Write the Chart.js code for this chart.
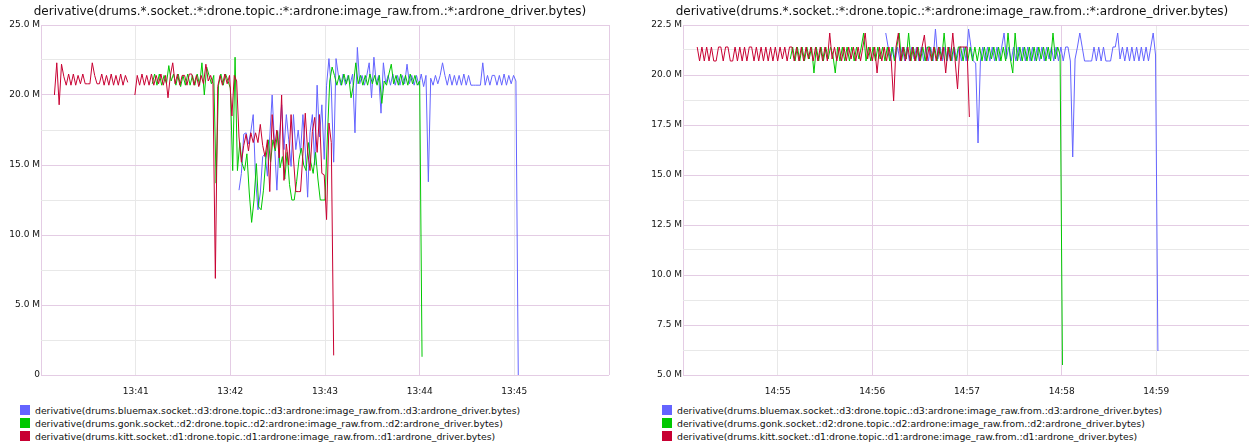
<!DOCTYPE html>
<html>
<head>
<meta charset="utf-8">
<script src="https://cdn.jsdelivr.net/npm/chart.js@4.4.1/dist/chart.umd.min.js"></script>
<style>
  body { margin: 0; background: #fff; width: 1249px; height: 446px; overflow: hidden; position: relative; font-family: 'DejaVu Sans', sans-serif; }
  .box { position: absolute; top: 0; width: 620px; height: 400px; }
  .legend { position: absolute; top: 404px; font-size: 9.3px; color: #111; }
  .legend div { height: 13px; line-height: 13px; white-space: nowrap; }
  .legend span { display: inline-block; width: 10px; height: 10px; margin-right: 5px; vertical-align: -1px; }
</style>
</head>
<body>
<div class="box" style="left:0"><canvas id="left"></canvas></div>
<div class="box" style="left:642px"><canvas id="right"></canvas></div>
<div class="legend" id="legendLeft" style="left:20px"></div>
<div class="legend" id="legendRight" style="left:662px"></div>
<script>
var title = 'derivative(drums.*.socket.:*:drone.topic.:*:ardrone:image_raw.from.:*:ardrone_driver.bytes)';
var seriesNames = [
  'derivative(drums.bluemax.socket.:d3:drone.topic.:d3:ardrone:image_raw.from.:d3:ardrone_driver.bytes)',
  'derivative(drums.gonk.socket.:d2:drone.topic.:d2:ardrone:image_raw.from.:d2:ardrone_driver.bytes)',
  'derivative(drums.kitt.socket.:d1:drone.topic.:d1:ardrone:image_raw.from.:d1:ardrone_driver.bytes)'
];
var seriesColors = ['rgb(100,100,255)', 'rgb(0,200,0)', 'rgb(200,0,50)'];

// seconds between samples; values are in millions (M)
var step = 1.5;

// ---- first graph, 13:40 - 13:46 ----
var leftTimeLabels = ['13:41', '13:42', '13:43', '13:44', '13:45'];
var leftYLabels = ['0', '5.0 M', '10.0 M', '15.0 M', '20.0 M', '25.0 M'];
var leftStarts = [125.5, 70.5, 8.5];   // seconds after 13:40 (blue, green, red)

var leftBlue = [
  13.2, 14.4, 17.2, 17.3, 16.5, 17.4, 18.6, 14.0, 11.8, 13.0,
  15.6, 15.8, 14.2, 17.0, 20.0, 16.5, 13.2, 16.8, 19.3, 16.1,
  18.6, 16.8, 14.9, 18.6, 16.1, 17.5, 15.9, 18.6, 16.0, 12.7,
  17.3, 18.6, 15.0, 20.7, 17.0, 19.3, 15.4, 20.7, 22.6, 20.5,
  15.2, 22.6, 21.4, 20.7, 21.5, 20.7, 21.4, 20.8, 21.5, 17.3,
  23.4, 20.8, 21.4, 20.7, 21.4, 22.3, 19.8, 22.7, 20.8, 21.4,
  18.7, 22.3, 20.8, 21.4, 20.7, 21.5, 20.7, 21.4, 20.7, 21.4,
  20.8, 22.2, 20.8, 21.4, 20.7, 21.4, 20.7, 21.5, 20.6, 21.4,
  13.8, 21.2, 20.7, 21.4, 20.8, 21.4, 22.3, 21.4, 20.7, 21.5,
  20.7, 21.4, 20.7, 21.4, 20.7, 21.5, 20.7, 21.4, 20.7, 20.7,
  20.7, 20.7, 20.7, 22.3, 20.7, 21.4, 20.7, 21.4, 21.4, 20.7,
  21.4, 20.7, 21.5, 20.7, 21.4, 20.8, 21.4, 21.0, 0
];
var leftGreen = [
  20.8, 21.5, 20.7, 21.5, 20.7, 21.4, 20.8, 22.1, 21.0, 21.5,
  20.7, 21.5, 20.6, 21.4, 20.7, 21.5, 20.7, 21.4, 20.7, 21.5,
  20.7, 22.3, 20.0, 22.0, 21.4, 20.8, 21.4, 13.7, 20.7, 21.5,
  20.7, 21.5, 21.0, 20.5, 14.6, 22.7, 14.6, 16.6, 15.1, 14.6,
  15.8, 13.0, 10.9, 12.5, 15.1, 12.0, 11.8, 13.2, 15.4, 16.8,
  15.2, 16.8, 16.0, 17.4, 14.8, 15.6, 14.0, 15.9, 13.6, 12.5,
  12.5, 13.8, 15.4, 16.2, 15.0, 14.6, 16.6, 15.2, 14.4, 15.9,
  14.0, 12.5, 12.5, 12.5, 17.0, 21.0, 22.0, 21.4, 20.7, 21.4,
  20.7, 21.5, 20.8, 21.4, 19.8, 20.7, 22.3, 20.8, 21.4, 20.7,
  21.4, 20.7, 21.5, 20.8, 21.4, 20.7, 21.4, 19.4, 21.0, 20.7,
  21.5, 22.2, 20.8, 21.4, 20.7, 21.5, 20.7, 21.4, 20.7, 21.5,
  20.8, 21.4, 20.7, 21.0, 1.3
];
var leftRed = [
  20.0, 22.3, 19.3, 22.2, 21.3, 20.7, 21.5, 20.7, 21.5, 20.7,
  21.4, 20.8, 21.5, 20.8, 20.8, 20.8, 22.3, 21.4, 20.8, 20.8,
  21.5, 20.7, 21.4, 20.7, 21.5, 20.7, 21.4, 20.7, 21.5, 20.7,
  21.4, 20.9, null, null, 20.0, 21.4, 20.7, 21.5, 20.7, 21.4,
  20.7, 21.5, 20.7, 21.4, 20.8, 21.5, 20.7, 21.4, 19.8, 21.4,
  22.3, 20.8, 21.5, 20.7, 21.4, 21.4, 20.7, 21.5, 21.5, 20.7,
  21.4, 20.6, 21.4, 20.8, 22.2, 21.0, 21.4, 20.8, 6.9, 20.6,
  21.4, 20.7, 21.5, 20.8, 21.4, 18.5, 21.4, 21.0, 17.0, 15.2,
  16.4, 17.2, 16.0, 17.3, 16.6, 17.3, 16.6, 17.9, 16.4, 15.6,
  16.8, 13.1, 18.6, 16.2, 17.5, 15.5, 20.0, 13.9, 16.5, 15.0,
  18.6, 15.5, 13.1, 13.1, 13.1, 15.8, 18.7, 16.0, 14.6, 17.4,
  18.4, 15.9, 18.6, 14.4, 14.3, 11.1, 18.0, 16.6, 1.4
];

// ---- second graph, 14:54 - 15:00 ----
var rightTimeLabels = ['14:55', '14:56', '14:57', '14:58', '14:59'];
var rightYLabels = ['5.0 M', '7.5 M', '10.0 M', '12.5 M', '15.0 M', '17.5 M', '20.0 M', '22.5 M'];
var rightStarts = [128.5, 68, 9];   // seconds after 14:54 (blue, green, red)

var rightBlue = [
  22.1, 21.4, 20.7, 21.4, 20.7, 21.4, 20.7, 21.4, 20.7, 21.4,
  20.7, 21.4, 20.8, 21.4, 20.7, 21.4, 20.7, 21.4, 20.7, 21.4,
  20.7, 22.3, 20.8, 21.4, 20.7, 21.4, 20.7, 21.4, 20.7, 21.4,
  20.7, 21.4, 20.7, 21.4, 20.7, 22.3, 21.4, 20.7, 20.6, 16.6,
  20.7, 21.4, 20.7, 21.4, 20.7, 21.4, 20.7, 21.4, 20.7, 21.4,
  22.1, 20.8, 21.4, 20.7, 21.4, 20.7, 21.4, 20.7, 21.4, 20.7,
  21.4, 20.7, 21.4, 20.7, 21.4, 20.7, 21.4, 20.7, 21.4, 20.8,
  21.4, 20.7, 21.4, 20.7, 21.4, 20.7, 21.4, 21.4, 20.7, 15.9,
  20.8, 21.4, 22.1, 21.4, 20.7, 20.7, 20.7, 20.7, 21.4, 20.7,
  21.4, 20.7, 21.4, 20.7, 20.7, 20.7, 21.4, 21.4, 22.1, 20.8,
  21.4, 20.7, 21.4, 20.7, 21.4, 20.7, 21.4, 20.7, 21.4, 20.7,
  21.4, 20.7, 21.4, 22.1, 21.0, 6.2
];
var rightGreen = [
  20.8, 21.4, 20.7, 21.4, 20.7, 21.4, 20.7, 21.4, 20.8, 21.4,
  20.1, 21.4, 20.7, 21.4, 20.7, 21.4, 20.8, 21.4, 21.0, 20.1,
  21.4, 20.7, 21.4, 20.7, 21.4, 20.7, 21.4, 20.7, 21.4, 20.8,
  21.4, 22.1, 20.7, 21.4, 20.7, 21.4, 20.7, 21.4, 20.8, 21.4,
  20.7, 21.4, 20.7, 21.4, 20.7, 21.4, 22.1, 20.7, 21.4, 20.8,
  22.1, 20.7, 21.4, 20.7, 21.4, 20.7, 21.4, 20.7, 21.4, 21.4,
  20.7, 21.4, 20.7, 21.4, 20.8, 22.1, 20.7, 21.4, 20.7, 21.4,
  20.7, 21.4, 21.4, 20.7, 21.4, 20.7, 21.4, 20.7, 21.4, 20.7,
  21.4, 20.7, 21.4, 20.7, 21.4, 20.8, 21.4, 20.7, 21.4, 20.7,
  21.4, 20.7, 22.1, 20.8, 20.1, 22.1, 20.7, 21.4, 20.7, 21.4,
  20.7, 21.4, 20.7, 21.4, 20.7, 21.4, 20.8, 21.4, 20.7, 21.4,
  20.7, 22.1, 20.8, 21.4, 21.0, 5.5
];
var rightRed = [
  21.4, 20.7, 21.4, 20.7, 21.4, 20.7, 21.4, 20.7, 20.7, 21.4,
  21.4, 20.7, 21.4, 21.4, 20.7, 20.7, 21.4, 20.7, 21.4, 20.7,
  21.4, 20.7, 21.4, 21.4, 20.7, 21.4, 20.7, 21.4, 20.7, 21.4,
  20.7, 21.4, 20.7, 21.4, 20.7, 21.4, 20.8, 21.4, 20.7, 21.4,
  21.4, 20.7, 21.4, 20.7, 21.4, 20.7, 21.4, 20.8, 21.4, 20.7,
  21.4, 20.7, 21.4, 20.7, 21.4, 20.7, 22.1, 20.8, 21.4, 20.7,
  21.4, 20.7, 21.4, 20.7, 21.4, 20.8, 21.4, 20.7, 21.4, 20.7,
  21.4, 22.1, 20.8, 21.4, 20.7, 21.4, 20.1, 21.4, 20.7, 21.4,
  20.7, 21.4, 20.7, 18.7, 21.4, 22.1, 20.7, 21.4, 20.7, 21.4,
  20.7, 21.4, 20.7, 21.4, 20.7, 21.4, 22.0, 20.7, 21.4, 20.7,
  21.4, 20.7, 21.4, 20.7, 21.4, 20.1, 21.4, 20.7, 22.1, 20.7,
  19.3, 21.4, 21.4, 21.4, 21.4, 17.9
];

var majorColor = 'rgb(228,204,228)';
var minorColor = 'rgb(232,232,232)';
var fontFamily = 'DejaVu Sans';

function isMultiple(v, m) {
  var r = v / m;
  return Math.abs(r - Math.round(r)) < 1e-6;
}

function toPoints(start, values) {
  return values.map(function (v, k) { return { x: start + k * step, y: v }; });
}

function drawGraph(id, starts, series, timeLabels, yMin, yMax, yStep, yMajor, yLabels) {
  var datasets = series.map(function (vals, s) {
    return {
      label: seriesNames[s],
      data: toPoints(starts[s], vals),
      borderColor: seriesColors[s],
      backgroundColor: seriesColors[s],
      borderWidth: 1,
      pointRadius: 0,
      tension: 0,
      fill: false,
      spanGaps: false,
      order: series.length - s
    };
  });

  new Chart(document.getElementById(id).getContext('2d'), {
    type: 'line',
    data: { datasets: datasets },
    options: {
      animation: false,
      responsive: true,
      maintainAspectRatio: false,
      events: [],
      layout: { padding: 0, autoPadding: false },
      plugins: {
        legend: { display: false },
        tooltip: { enabled: false },
        title: {
          display: true,
          text: title,
          color: '#111',
          font: { family: fontFamily, size: 12, weight: 'normal' },
          padding: { top: 5, bottom: 5.6 }
        }
      },
      scales: {
        x: {
          type: 'linear',
          min: 0,
          max: 360,
          border: { display: false },
          grid: {
            drawTicks: false,
            color: function (ctx) { return isMultiple(ctx.tick.value, 120) ? majorColor : minorColor; }
          },
          ticks: {
            stepSize: 60,
            autoSkip: false,
            maxRotation: 0,
            padding: 11,
            color: '#111',
            font: { family: fontFamily, size: 9 },
            callback: function (v) { return timeLabels[Math.round(v / 60) - 1] || ''; }
          },
          afterFit: function (scale) {
            scale.height = 25;
            scale.paddingLeft = 0;
            scale.paddingRight = 11;
          }
        },
        y: {
          min: yMin,
          max: yMax,
          border: { display: false },
          grid: {
            drawTicks: false,
            color: function (ctx) { return isMultiple(ctx.tick.value, yMajor) ? majorColor : minorColor; }
          },
          ticks: {
            stepSize: yStep,
            autoSkip: false,
            padding: 1,
            color: '#111',
            font: { family: fontFamily, size: 9 },
            callback: function (v) {
              return isMultiple(v, yMajor) ? yLabels[Math.round((v - yMin) / yMajor)] : '';
            }
          },
          afterFit: function (scale) { scale.width = 41; }
        }
      }
    }
  });
}

function drawLegend(id) {
  var box = document.getElementById(id);
  seriesNames.forEach(function (name, s) {
    var row = document.createElement('div');
    var sw = document.createElement('span');
    sw.style.background = seriesColors[s];
    row.appendChild(sw);
    row.appendChild(document.createTextNode(name));
    box.appendChild(row);
  });
}

drawGraph('left', leftStarts, [leftBlue, leftGreen, leftRed], leftTimeLabels, 0, 25, 2.5, 5, leftYLabels);
drawGraph('right', rightStarts, [rightBlue, rightGreen, rightRed], rightTimeLabels, 5, 22.5, 1.25, 2.5, rightYLabels);
drawLegend('legendLeft');
drawLegend('legendRight');
</script>
</body>
</html>
